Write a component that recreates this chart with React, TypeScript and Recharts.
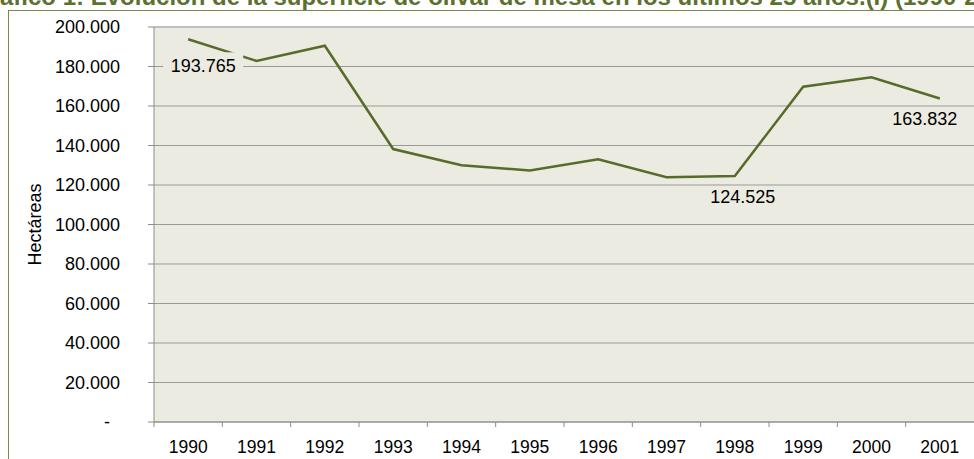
import * as React from "react";
import {
  CartesianGrid,
  LabelList,
  Line,
  LineChart,
  ReferenceLine,
  XAxis,
  YAxis,
} from "recharts";

const years = ["1990", "1991", "1992", "1993", "1994", "1995", "1996", "1997", "1998", "1999", "2000", "2001"];
const hectares = [193765, 182800, 190500, 138200, 130000, 127400, 133000, 123900, 124525, 169800, 174500, 163832];
const yTicks = [0, 20000, 40000, 60000, 80000, 100000, 120000, 140000, 160000, 180000, 200000];
const labelledYears = ["1990", "1998", "2001"];

const title = "Gráfico 1: Evolución de la superficie de olivar de mesa en los últimos 25 años.(I) (1990-2014)";

const data = years.map((year, i) => ({ year, hectares: hectares[i] }));

const FONT = "'Liberation Sans', Arial, sans-serif";
const LINE = "#586b2b";
const PLOT_BG = "#ecebe1";

// label placement relative to its point (dx, dy) + whether it masks the line
const labelStyle: Record<string, { dx: number; dy: number; mask: boolean }> = {
  "1990": { dx: 15, dy: 27, mask: true },
  "1998": { dx: 8, dy: 21, mask: false },
  "2001": { dx: -15, dy: 21, mask: false },
};

const fmt = (v: number) => (v === 0 ? "-" : String(Math.round(v)).replace(/\B(?=(\d{3})+(?!\d))/g, "."));

function YTick({ x, y, payload }: any) {
  const zero = payload.value === 0;
  return (
    <text x={zero ? x - 10 : x} y={y} textAnchor="end" dominantBaseline="central" fontSize={18} fontFamily={FONT} fill="#000">
      {fmt(payload.value)}
    </text>
  );
}

function XTick({ x, y, payload }: any) {
  const half = payload.offset || 34.17;
  return (
    <g>
      <line x1={x - half} x2={x - half} y1={y} y2={y + 5} stroke="#8c8c8c" />
      <text x={x} y={y + 25} textAnchor="middle" dominantBaseline="central" fontSize={17.5} fontFamily={FONT} fill="#000">
        {payload.value}
      </text>
    </g>
  );
}

function PointLabel({ x, y, value, index }: any) {
  const st = labelStyle[years[index]];
  if (!st || !labelledYears.includes(years[index])) return null;
  const cx = x + st.dx;
  const cy = y + st.dy;
  return (
    <g>
      {st.mask && <rect x={cx - 40} y={cy - 14} width={80} height={28} fill={PLOT_BG} />}
      <text x={cx} y={cy} textAnchor="middle" dominantBaseline="central" fontSize={18} fontFamily={FONT} fill="#000">
        {fmt(value)}
      </text>
    </g>
  );
}

export default function App() {
  return (
    <div style={{ position: "absolute", left: 0, top: 0, width: 974, height: 459, overflow: "hidden", background: "#fff" }}>
      <div
        style={{
          position: "absolute",
          left: 8,
          top: 10,
          width: 1000,
          height: 500,
          border: "1px solid #76894a",
          boxSizing: "border-box",
        }}
      />
      <svg style={{ position: "absolute", left: 0, top: 0 }} width={974} height={20}>
        <text x={-28} y={5} fontSize={24} fontWeight="bold" fontFamily={FONT} fill="#5c7130">
          {title}
        </text>
      </svg>
      <div style={{ position: "absolute", left: 0, top: 0 }}>
        <LineChart width={974} height={459} data={data} margin={{ top: 27, right: 0, bottom: 0, left: 8 }}>
          <CartesianGrid vertical={false} stroke="#999" fill={PLOT_BG} fillOpacity={1} />
          <XAxis
            dataKey="year"
            scale="band"
            height={37}
            axisLine={{ stroke: "#8c8c8c" }}
            tickLine={false}
            tickSize={0}
            tickMargin={0}
            interval={0}
            tick={<XTick />}
          />
          <YAxis
            width={146}
            domain={[0, 200000]}
            ticks={yTicks}
            interval={0}
            axisLine={{ stroke: "#8c8c8c" }}
            tickLine={{ stroke: "#8c8c8c" }}
            tickSize={6}
            tickMargin={28}
            tick={<YTick />}
            label={({ viewBox }: any) => (
              <text
                x={viewBox.x + 27}
                y={viewBox.y + viewBox.height / 2}
                transform={`rotate(-90 ${viewBox.x + 27} ${viewBox.y + viewBox.height / 2})`}
                textAnchor="middle"
                dominantBaseline="central"
                fontSize={18}
                fontFamily={FONT}
                fill="#000"
              >
                Hectáreas
              </text>
            )}
          />
          <ReferenceLine y={200000} stroke="#c0c0c0" strokeWidth={2} />
          <Line
            type="linear"
            dataKey="hectares"
            stroke={LINE}
            strokeWidth={2.5}
            dot={false}
            activeDot={false}
            isAnimationActive={false}
          >
            <LabelList dataKey="hectares" content={<PointLabel />} />
          </Line>
        </LineChart>
      </div>
    </div>
  );
}
